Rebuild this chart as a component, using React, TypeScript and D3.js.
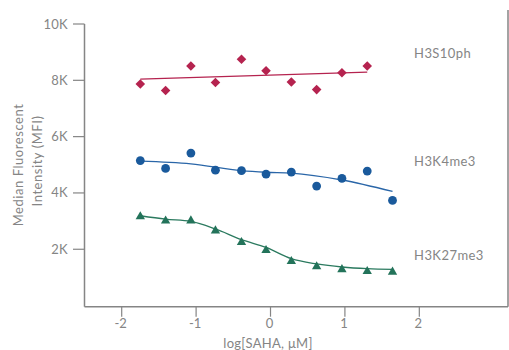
import React from "react";
import * as d3 from "d3";

const doseLog = [-1.75, -1.41, -1.07, -0.74, -0.39, -0.06, 0.28, 0.62, 0.96, 1.3, 1.64];
const h3s10ph = [7870, 7640, 8510, 7920, 8750, 8340, 7940, 7670, 8270, 8510];
const h3k4me3 = [5150, 4870, 5415, 4810, 4790, 4670, 4740, 4245, 4515, 4775, 3735];
const h3k27me3 = [3160, 3010, 3015, 2660, 2245, 1960, 1570, 1385, 1280, 1215, 1195];

const redFitX = [-1.75, 1.3];
const redFitY = [8040, 8290];
const blueFitX = [-1.75, -1.07, -0.39, -0.06, 0.28, 0.96, 1.64];
const blueFitY = [5130, 5035, 4790, 4735, 4705, 4460, 4055];
const greenFitX = [-1.75, -1.41, -1.07, -0.74, -0.39, -0.06, 0.28, 0.62, 0.96, 1.3, 1.64];
const greenFitY = [3190, 3070, 2990, 2720, 2340, 2065, 1665, 1480, 1370, 1310, 1285];

const xTicks = [-2, -1, 0, 1, 2];
const yTicks = [2000, 4000, 6000, 8000, 10000];
const yTickLabels = ["2K", "4K", "6K", "8K", "10K"];

const seriesLabels = ["H3S10ph", "H3K4me3", "H3K27me3"];
const seriesLabelY = [8950, 5130, 1770];

const FONT = "Lato, 'Open Sans', sans-serif";
const GRAY = "#858585";

export default function App() {
  const W = 509;
  const H = 350;
  const x = d3.scaleLinear().domain([-2.5, 3.2]).range([84.5, 508.6]);
  const y = d3.scaleLinear().domain([-40, 10000]).range([306.7, 24]);
  const bottom = y(-40);

  const line = (xs: number[], ys: number[]) =>
    d3
      .line<number>()
      .x((_, i) => x(xs[i]))
      .y((v) => y(v))
      .curve(d3.curveMonotoneX)(ys) || "";

  const square = d3.symbol().type(d3.symbolSquare).size(46)() || "";
  const tri = d3.symbol().type(d3.symbolTriangle).size(38)() || "";

  return (
    <svg
      width={W}
      height={H}
      style={{ position: "absolute", left: 0, top: 0, background: "#fff" }}
      fontFamily={FONT}
    >
      {/* axes */}
      <line x1={x(-2.5)} x2={x(-2.5)} y1={y(10000)} y2={bottom} stroke={GRAY} strokeWidth={1.5} />
      <line x1={x(-2.5)} x2={508} y1={bottom} y2={bottom} stroke={GRAY} strokeWidth={1.5} />
      <line x1={508} x2={508} y1={10} y2={bottom} stroke={GRAY} strokeWidth={1.5} />
      {yTicks.map((t, i) => (
        <g key={t}>
          <line x1={73} x2={x(-2.5)} y1={y(t)} y2={y(t)} stroke={GRAY} strokeWidth={1.2} />
          <text x={68} y={y(t)} dy="0.35em" textAnchor="end" fontSize={13} fill={GRAY} letterSpacing={0.3}>
            {yTickLabels[i]}
          </text>
        </g>
      ))}
      {xTicks.map((t) => (
        <g key={t}>
          <line x1={x(t)} x2={x(t)} y1={bottom} y2={bottom + 10} stroke={GRAY} strokeWidth={1.2} />
          <text x={x(t) - 1} y={323} dy="0.35em" textAnchor="middle" fontSize={13} fill={GRAY}>
            {t}
          </text>
        </g>
      ))}
      <text x={268} y={343} dy="0.35em" textAnchor="middle" fontSize={13} fill={GRAY} letterSpacing={0.3}>
        log[SAHA, μM]
      </text>
      <g transform="translate(18,165) rotate(-90)">
        <text textAnchor="middle" dy="0.35em" fontSize={13} fill={GRAY} letterSpacing={0.55}>
          Median Fluorescent
        </text>
      </g>
      <g transform="translate(37,161) rotate(-90)">
        <text textAnchor="middle" dy="0.35em" fontSize={13} fill={GRAY} letterSpacing={0.55}>
          Intensity (MFI)
        </text>
      </g>

      {/* fits */}
      <path d={line(redFitX, redFitY)} fill="none" stroke="#b5234f" strokeWidth={1.3} />
      <path d={line(blueFitX, blueFitY)} fill="none" stroke="#2a66a8" strokeWidth={1.3} />
      <path d={line(greenFitX, greenFitY)} fill="none" stroke="#2b7a5f" strokeWidth={1.3} />

      {/* markers */}
      {h3s10ph.map((v, i) => (
        <path
          key={"r" + i}
          d={square}
          transform={`translate(${x(doseLog[i])},${y(v)}) rotate(45)`}
          fill="#b5234f"
        />
      ))}
      {h3k4me3.map((v, i) => (
        <circle key={"b" + i} cx={x(doseLog[i])} cy={y(v)} r={4.4} fill="#1a5a9c" />
      ))}
      {h3k27me3.map((v, i) => (
        <path
          key={"g" + i}
          d={tri}
          transform={`translate(${x(doseLog[i])},${y(v)})`}
          fill="#23735a"
        />
      ))}

      {/* series labels */}
      {seriesLabels.map((s, i) => (
        <text key={s} x={414} y={y(seriesLabelY[i])} dy="0.35em" fontSize={13} fill={GRAY} letterSpacing={0.45}>
          {s}
        </text>
      ))}
    </svg>
  );
}
